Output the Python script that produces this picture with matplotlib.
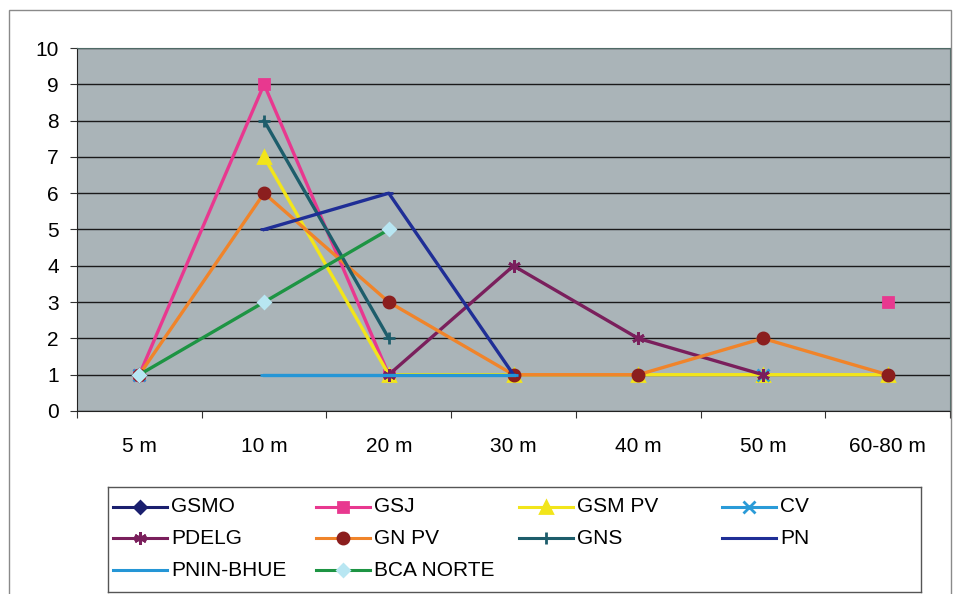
import numpy as np
import matplotlib
matplotlib.use("Agg")
import matplotlib.pyplot as plt
from matplotlib.patches import Rectangle

plt.rcParams['font.family'] = ['Liberation Sans', 'DejaVu Sans']

nan = np.nan
categories = ["5 m", "10 m", "20 m", "30 m", "40 m", "50 m", "60-80 m"]

gsmo      = [1, nan, nan, nan, nan, nan, nan]
gsj       = [1, 9, 1, nan, nan, nan, 3]
gsm_pv    = [nan, 7, 1, 1, 1, 1, 1]
cv        = [1, nan, nan, nan, nan, 1, nan]
pdelg     = [nan, nan, 1, 4, 2, 1, nan]
gn_pv     = [1, 6, 3, 1, 1, 2, 1]
gns       = [nan, 8, 2, nan, nan, nan, nan]
pn        = [nan, 5, 6, 1, nan, nan, nan]
pnin_bhue = [nan, 1, 1, 1, nan, nan, nan]
bca_norte = [1, 3, 5, nan, nan, nan, nan]

# name, values, line colour, marker, marker face, marker size
series = [
    ("GSMO",       gsmo,      "#1a1f6e", "D", "#1a1f6e", 6),
    ("GSJ",        gsj,       "#e8388f", "s", "#e8388f", 7),
    ("GSM PV",     gsm_pv,    "#f2e51a", "^", "#f2e51a", 8),
    ("CV",         cv,        "#2a9bd8", "x", "#2a9bd8", 8),
    ("PDELG",      pdelg,     "#7a1f5c", (6, 2, 0), "#7a1f5c", 9),
    ("GN PV",      gn_pv,     "#f0842a", "o", "#8b1e1e", 8),
    ("GNS",        gns,       "#1d5d6b", "+", "#1d5d6b", 9),
    ("PN",         pn,        "#1f2e96", "_", "#1f2e96", 6),
    ("PNIN-BHUE",  pnin_bhue, "#2596d6", "_", "#2596d6", 6),
    ("BCA NORTE",  bca_norte, "#1d9443", "D", "#b8e6f2", 6),
]

W, H = 955, 594
fs = 15
fig = plt.figure(figsize=(W / 100, H / 100), dpi=100)

# outer chart frame
fig.patches.append(Rectangle((9 / W, -0.01), (951 - 9) / W, (594 - 10) / H + 0.01,
                             transform=fig.transFigure, fill=False,
                             edgecolor="#8a8a8a", lw=1.0))

ax = fig.add_axes([77 / W, (H - 411) / H, (950 - 77) / W, (411 - 48) / H])
ax.set_facecolor("#aab4b8")
x = np.arange(len(categories))

for name, vals, col, mk, mfc, ms in series:
    ax.plot(x, vals, color=col, lw=2.4, marker=mk, markersize=ms,
            markerfacecolor=mfc, markeredgecolor=mfc, markeredgewidth=2,
            label=name)

ax.set_xlim(-0.5, len(categories) - 0.5)
ax.set_ylim(0, 10)
ax.set_yticks(range(0, 11))
ax.yaxis.grid(True, color="#1a1a1a", lw=1.0)
ax.set_axisbelow(True)

ax.set_xticks(np.arange(-0.5, len(categories), 1.0))
ax.set_xticklabels([])
ax.set_xticks(x, minor=True)
ax.set_xticklabels(categories, minor=True)
ax.tick_params(axis="x", which="major", length=5, direction="out", color="#333333")
ax.tick_params(axis="x", which="minor", length=0, pad=19, labelsize=fs)
ax.tick_params(axis="y", length=5, direction="out", pad=8, labelsize=fs,
               color="#333333")
for side in ["left", "bottom"]:
    ax.spines[side].set_color("#222222")
for side in ["top", "right"]:
    ax.spines[side].set_color("#4f6a66")

# legend box laid out in fixed-width columns
lx0, lx1, ly0, ly1 = 108, 921, 487, 592
lax = fig.add_axes([lx0 / W, (H - ly1) / H, (lx1 - lx0) / W, (ly1 - ly0) / H])
lax.set_xlim(0, lx1 - lx0)
lax.set_ylim(ly1 - ly0, 0)
lax.set_xticks([])
lax.set_yticks([])
for s in lax.spines.values():
    s.set_color("#555555")
    s.set_linewidth(1.0)
col_w = 203
row_y = [20, 51, 83]
for i, (name, vals, col, mk, mfc, ms) in enumerate(series):
    r, c = divmod(i, 4)
    x0 = 5 + c * col_w
    y0 = row_y[r]
    lax.plot([x0, x0 + 54], [y0, y0], color=col, lw=2.2)
    lax.plot([x0 + 27], [y0], marker=mk, markersize=ms, color=mfc,
             markeredgecolor=mfc, markeredgewidth=2)
    lax.text(x0 + 58, y0, name, fontsize=fs, va="center", ha="left")

fig.savefig("out.png", dpi=100)
